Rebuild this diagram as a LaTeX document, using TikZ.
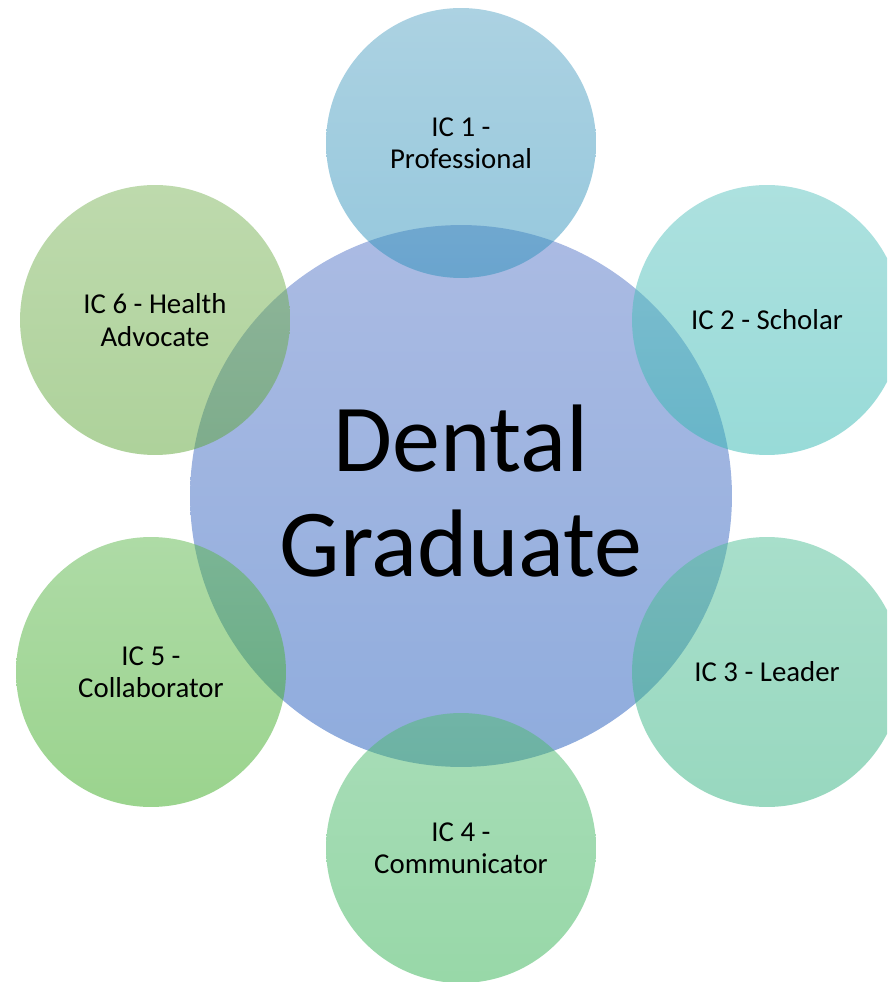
\documentclass[tikz,border=0pt]{standalone}
\usepackage{fontspec}
\setmainfont{Carlito}
\usepackage{tikz}
\usetikzlibrary{positioning, calc}

\definecolor{hubtop}{RGB}{171, 187, 227}
\definecolor{hubbot}{RGB}{143, 172, 221}
\definecolor{oneTop}{RGB}{89, 165, 197}
\definecolor{oneBot}{RGB}{45, 145, 187}
\definecolor{twoTop}{RGB}{91, 195, 191}
\definecolor{twoBot}{RGB}{49, 183, 177}
\definecolor{threeTop}{RGB}{81, 191, 151}
\definecolor{threeBot}{RGB}{49, 177, 127}
\definecolor{fourTop}{RGB}{81, 187, 113}
\definecolor{fourBot}{RGB}{49, 177, 81}
\definecolor{fiveTop}{RGB}{93, 183, 77}
\definecolor{fiveBot}{RGB}{55, 169, 29}
\definecolor{sixTop}{RGB}{125, 181, 91}
\definecolor{sixBot}{RGB}{93, 165, 55}

\begin{document}
\begin{tikzpicture}[x=0.02cm, y=-0.02cm,
  hub/.style={circle, minimum size=10.84cm, inner sep=0pt, align=center, top color=hubtop, bottom color=hubbot},
  hubtext/.style={align=center, font=\fontsize{54.6}{59.8}\selectfont},
  spoke/.style={circle, minimum size=5.4cm, inner sep=0pt, align=center, fill opacity=0.5, text opacity=1, font=\fontsize{16.4}{18.4}\selectfont}]
  \useasboundingbox (0,0) rectangle (887,982);
  \clip (0,0) rectangle (887,982);

  % Centre
  \node[hub] (dental) at (461, 496) {};
  \node[hubtext] (dentaltext) at (461, 491) {Dental\\Graduate};

  % Competencies round the centre
  \node[spoke, top color=oneTop, bottom color=oneBot] (ic1) at (461, 143) {IC 1 -\\Professional};
  \node[spoke, top color=twoTop, bottom color=twoBot] (ic2) at (767, 320) {IC 2 - Scholar};
  \node[spoke, top color=threeTop, bottom color=threeBot] (ic3) at (767, 672) {IC 3 - Leader};
  \node[spoke, top color=fourTop, bottom color=fourBot] (ic4) at (461, 848) {IC 4 -\\Communicator};
  \node[spoke, top color=fiveTop, bottom color=fiveBot] (ic5) at (151, 672) {IC 5 -\\Collaborator};
  \node[spoke, top color=sixTop, bottom color=sixBot] (ic6) at (155, 320) {IC 6 - Health\\Advocate};
\end{tikzpicture}
\end{document}
